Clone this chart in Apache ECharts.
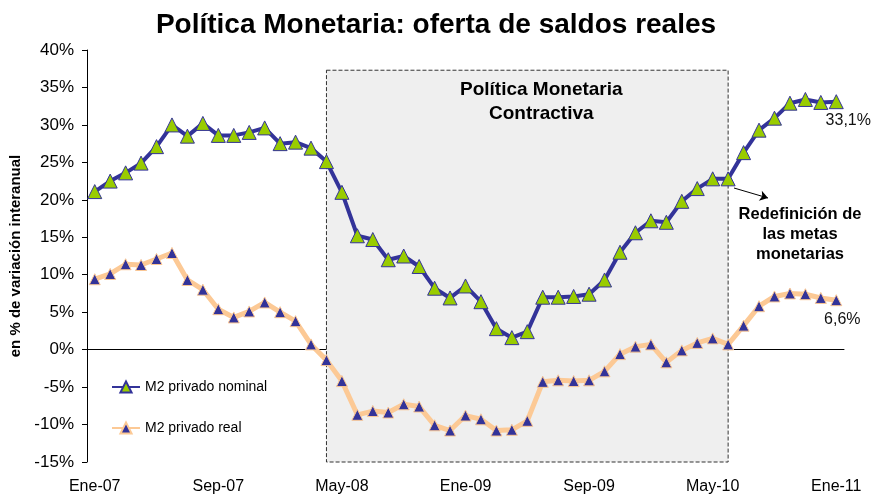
<!DOCTYPE html>
<html>
<head>
<meta charset="utf-8">
<script src="https://cdn.jsdelivr.net/npm/echarts@6/dist/echarts.min.js"></script>
<style>
  html, body { margin: 0; padding: 0; background: #fff; }
  #chart { width: 872px; height: 495px; }
</style>
</head>
<body>
<div id="chart"></div>
<script>
// meses Ene-07 .. Ene-11
const categories = [
  'Ene-07', 'Feb-07', 'Mar-07', 'Abr-07', 'May-07', 'Jun-07', 'Jul-07', 'Ago-07', 'Sep-07', 'Oct-07', 'Nov-07', 'Dic-07',
  'Ene-08', 'Feb-08', 'Mar-08', 'Abr-08', 'May-08', 'Jun-08', 'Jul-08', 'Ago-08', 'Sep-08', 'Oct-08', 'Nov-08', 'Dic-08',
  'Ene-09', 'Feb-09', 'Mar-09', 'Abr-09', 'May-09', 'Jun-09', 'Jul-09', 'Ago-09', 'Sep-09', 'Oct-09', 'Nov-09', 'Dic-09',
  'Ene-10', 'Feb-10', 'Mar-10', 'Abr-10', 'May-10', 'Jun-10', 'Jul-10', 'Ago-10', 'Sep-10', 'Oct-10', 'Nov-10', 'Dic-10',
  'Ene-11'
]
const m2Nominal = [
  21.1, 22.5, 23.6, 24.9, 27.1, 30.0, 28.5, 30.2, 28.6, 28.6, 29.0, 29.6,
  27.5, 27.7, 26.9, 25.1, 21.0, 15.2, 14.7, 12.0, 12.5, 11.1, 8.2, 6.9,
  8.5, 6.4, 2.8, 1.6, 2.4, 7.0, 7.0, 7.1, 7.4, 9.3, 13.0, 15.6,
  17.2, 17.0, 19.8, 21.5, 22.8, 22.8, 26.3, 29.3, 30.9, 32.9, 33.4, 33.0,
  33.1
]
const m2Real = [
  9.4, 10.1, 11.4, 11.3, 12.1, 12.9, 9.3, 8.0, 5.4, 4.3, 5.1, 6.3,
  5.0, 3.8, 0.7, -1.4, -4.2, -8.7, -8.2, -8.4, -7.3, -7.6, -10.1, -10.8,
  -8.8, -9.3, -10.8, -10.7, -9.5, -4.3, -4.1, -4.2, -4.1, -2.9, -0.6, 0.4,
  0.7, -1.7, -0.1, 0.9, 1.5, 0.7, 3.2, 5.8, 7.1, 7.5, 7.4, 6.9,
  6.6
]
const yTicks = { min: -15, max: 40, interval: 5 }
const contractiva = ['Abr-08', 'Jun-10'] // periodo sombreado

const font = 'Liberation Sans, Arial, sans-serif'
const pct = (v) => v.toFixed(1).replace('.', ',') + '%'
// etiqueta solo en el ultimo punto
const lastLabel = (arr, offset) => arr.map((v, i) => i === arr.length - 1
  ? { value: v, label: { show: true, position: 'bottom', offset: offset, formatter: () => pct(v), fontSize: 16, color: '#111', fontFamily: font } }
  : v)

const option = {
  animation: false,
  textStyle: { fontFamily: font },
  title: {
    text: 'Política Monetaria: oferta de saldos reales',
    left: 'center',
    top: 6,
    textStyle: { fontSize: 28, fontWeight: 'bold', color: '#000', fontFamily: font },
  },
  grid: { left: 87, right: 28, top: 50, bottom: 31 },
  legend: {
    orient: 'vertical',
    left: 106,
    top: 375,
    itemWidth: 28,
    itemHeight: 14,
    itemGap: 27,
    textStyle: { fontSize: 14, color: '#000', fontFamily: font },
    data: ['M2 privado nominal', 'M2 privado real'],
  },
  xAxis: [
    {
      // eje en cero con marcas
      type: 'category',
      data: categories,
      boundaryGap: true,
      axisLine: { onZero: true, lineStyle: { color: '#000', width: 1 } },
      axisTick: { interval: 7, length: 5, lineStyle: { color: '#000' } },
      axisLabel: { show: false },
      splitLine: { show: false },
    },
    {
      // etiquetas abajo
      type: 'category',
      data: categories,
      position: 'bottom',
      boundaryGap: true,
      axisLine: { show: false, onZero: false },
      axisTick: { show: false },
      axisLabel: { interval: 7, margin: 17, fontSize: 16, color: '#000', fontFamily: font },
    },
  ],
  yAxis: {
    type: 'value',
    min: yTicks.min,
    max: yTicks.max,
    interval: yTicks.interval,
    name: 'en % de variación interanual',
    nameLocation: 'middle',
    nameRotate: 90,
    nameGap: 59,
    nameTextStyle: { fontSize: 15, fontWeight: 'bold', color: '#000', fontFamily: font },
    axisLine: { show: true, lineStyle: { color: '#000', width: 1 } },
    axisTick: { show: true, length: 5, lineStyle: { color: '#000' } },
    axisLabel: { formatter: '{value}%', margin: 13, fontSize: 17, color: '#000', fontFamily: font },
    splitLine: { show: false },
  },
  series: [
    {
      name: 'M2 privado real',
      type: 'line',
      data: lastLabel(m2Real, [6, 0]),
      symbol: 'triangle',
      symbolSize: 11,
      showSymbol: true,
      showAllSymbol: true,
      lineStyle: { color: '#fcc995', width: 5 },
      itemStyle: { color: '#333399', borderColor: '#fcc995', borderWidth: 1 },
      markArea: {
        silent: true,
        itemStyle: { color: '#efefef', borderColor: '#333', borderWidth: 1, borderType: 'dashed' },
        label: {
          show: true,
          position: 'insideTop',
          offset: [14, 3],
          formatter: 'Política Monetaria\nContractiva',
          fontSize: 19,
          fontWeight: 'bold',
          lineHeight: 24,
          color: '#000',
          fontFamily: font,
        },
        data: [[{ xAxis: contractiva[0], yAxis: 37.3 }, { xAxis: contractiva[1], yAxis: yTicks.min }]],
      },
      markLine: {
        silent: true,
        symbol: ['none', 'arrow'],
        symbolSize: 8,
        lineStyle: { color: '#000', width: 1, type: 'solid' },
        label: { show: false },
        data: [[{ x: 734, y: 188 }, { x: 768, y: 198 }]],
      },
    },
    {
      name: 'M2 privado nominal',
      type: 'line',
      data: lastLabel(m2Nominal, [12, -2]),
      symbol: 'triangle',
      symbolSize: 14,
      showSymbol: true,
      showAllSymbol: true,
      lineStyle: { color: '#333399', width: 4 },
      itemStyle: { color: '#99cc00', borderColor: '#333399', borderWidth: 1 },
    },
  ],
  graphic: [
    {
      type: 'text',
      x: 800,
      y: 204,
      style: {
        text: 'Redefinición de\nlas metas\nmonetarias',
        align: 'center',
        fontSize: 16.5,
        fontWeight: 'bold',
        lineHeight: 20,
        fill: '#000',
        fontFamily: font,
      },
    },
  ],
}

const chart = echarts.init(document.getElementById('chart'))
chart.setOption(option)
window.addEventListener('resize', function () {
  chart.resize()
})
</script>
</body>
</html>
